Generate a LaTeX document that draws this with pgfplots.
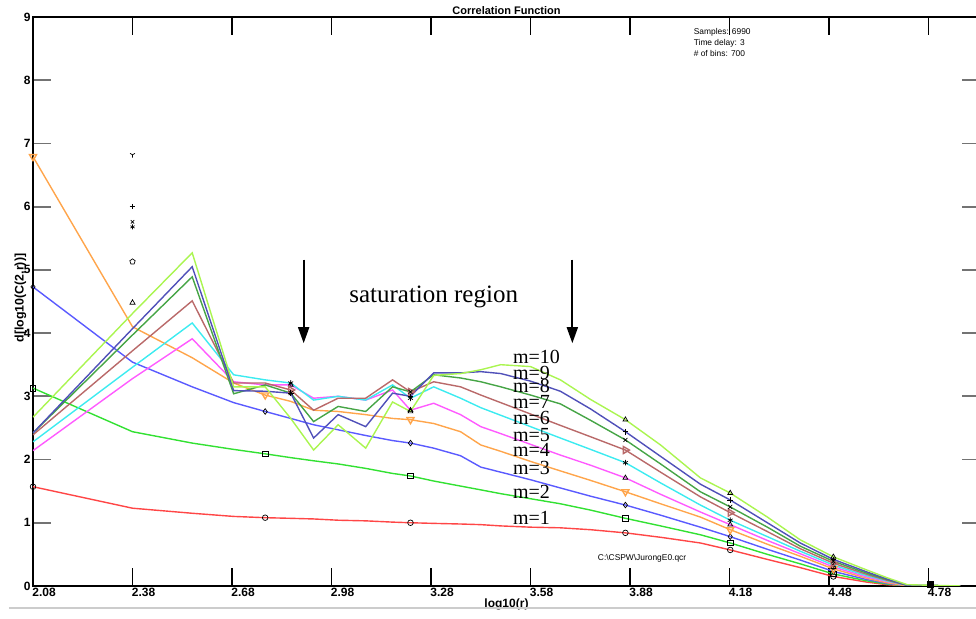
\documentclass[border=0pt]{standalone}
\usepackage{fontspec}
\setmainfont{Liberation Serif}
\newfontfamily\arial{Liberation Sans}
\usepackage{pgfplots}
\pgfplotsset{compat=1.18}
\usepackage{pgfplotstable}
\usetikzlibrary{arrows.meta}

\definecolor{c1}{RGB}{255,70,70}
\definecolor{c2}{RGB}{50,225,50}
\definecolor{c3}{RGB}{90,90,255}
\definecolor{c4}{RGB}{255,165,75}
\definecolor{c5}{RGB}{255,90,255}
\definecolor{c6}{RGB}{60,235,240}
\definecolor{c7}{RGB}{185,105,105}
\definecolor{c8}{RGB}{70,165,70}
\definecolor{c9}{RGB}{80,80,185}
\definecolor{c10}{RGB}{170,245,80}

\pgfplotstableread{
x m1 m2 m3 m4 m5 m6 m7 m8 m9 m10
2.080 1.57 3.13 4.73 6.79 2.14 2.28 2.39 2.42 2.42 2.67
2.380 1.23 2.44 3.54 4.10 3.28 3.46 3.72 3.97 4.07 4.31
2.560 1.15 2.26 3.15 3.61 3.91 4.16 4.51 4.89 5.05 5.27
2.685 1.10 2.16 2.90 3.21 3.23 3.34 3.21 3.04 3.09 3.15
2.780 1.08 2.09 2.76 3.02 3.18 3.26 3.21 3.18 3.08 3.15
2.857 1.07 2.03 2.65 2.92 3.18 3.21 3.10 3.05 3.05 2.65
2.926 1.06 1.98 2.55 2.78 2.97 2.94 2.78 2.60 2.34 2.15
3.000 1.04 1.93 2.47 2.76 3.00 3.00 2.97 2.84 2.71 2.55
3.083 1.03 1.86 2.38 2.71 2.94 2.94 2.97 2.76 2.52 2.18
3.164 1.01 1.78 2.30 2.65 3.10 3.18 3.26 3.15 3.05 2.91
3.218 1.00 1.74 2.26 2.63 2.78 2.97 3.07 3.07 3.00 2.76
3.288 0.99 1.66 2.18 2.57 2.89 3.15 3.23 3.34 3.37 3.33
3.369 0.98 1.58 2.06 2.44 2.71 2.97 3.15 3.29 3.37 3.36
3.430 0.97 1.52 1.88 2.23 2.52 2.82 3.02 3.23 3.39 3.42
3.490 0.95 1.46 1.80 2.13 2.41 2.70 2.90 3.15 3.36 3.50
3.580 0.93 1.38 1.68 1.97 2.24 2.52 2.72 3.02 3.24 3.47
3.670 0.92 1.30 1.55 1.82 2.07 2.34 2.54 2.88 3.08 3.26
3.761 0.89 1.20 1.42 1.67 1.91 2.16 2.36 2.62 2.80 2.95
3.866 0.84 1.07 1.28 1.49 1.71 1.95 2.15 2.31 2.44 2.63
3.972 0.77 0.95 1.12 1.30 1.45 1.63 1.80 1.93 2.05 2.23
4.092 0.68 0.81 0.93 1.09 1.17 1.28 1.41 1.49 1.61 1.71
4.182 0.57 0.68 0.78 0.89 0.97 1.04 1.16 1.25 1.36 1.47
4.294 0.42 0.50 0.58 0.66 0.72 0.78 0.86 0.93 1.00 1.09
4.393 0.29 0.35 0.41 0.47 0.51 0.55 0.59 0.63 0.68 0.73
4.493 0.15 0.19 0.23 0.27 0.30 0.33 0.36 0.39 0.42 0.46
4.595 0.06 0.08 0.10 0.12 0.14 0.16 0.18 0.20 0.22 0.25
4.655 0.02 0.03 0.04 0.05 0.07 0.08 0.09 0.10 0.11 0.13
4.716 0.00 0.00 0.00 0.00 0.01 0.01 0.01 0.01 0.01 0.02
4.875 0.00 0.00 0.00 0.00 0.00 0.00 0.00 0.00 0.00 0.00
}\data

\pgfplotsset{
  ser/.style={line width=0.7pt, mark options={black, solid, line width=0.35pt, mark size=1.4pt, fill=white}},
}
\tikzset{
  mlab/.style={anchor=west, inner sep=0pt, font=\fontsize{10}{12}\selectfont},
  info/.style={anchor=west, inner sep=0pt, font=\arial\fontsize{4.2}{5}\selectfont},
}

\begin{document}
\begin{tikzpicture}
\begin{axis}[name=ax, scale only axis, width=473.5pt, height=284.5pt,
  xmin=2.08, xmax=4.935, ymin=0, ymax=9,
  axis line style={line width=1pt},
  tick align=inside,
  xtick={2.08,2.38,2.68,2.98,3.28,3.58,3.88,4.18,4.48,4.78},
  ytick={0,1,2,3,4,5,6,7,8,9},
  x tick style={black, line width=0.6pt},
  y tick style={black!55, line width=0.9pt},
  xtick/.append style={major tick length=4pt},
  major tick length=9pt,
  /pgf/number format/assume math mode=true,
  xticklabel style={font=\arial\bfseries\fontsize{6}{7}\selectfont, anchor=north west, xshift=-1.5pt, inner sep=1pt,
    /pgf/number format/.cd, fixed, fixed zerofill, precision=2},
  yticklabel style={font=\arial\bfseries\fontsize{6}{7}\selectfont, inner sep=1pt},
  xlabel={log10(r)},
  xlabel style={font=\arial\bfseries\fontsize{6}{7}\selectfont, at={(axis description cs:0.5,0)}, anchor=center, yshift=-9pt},
  ylabel={d[log10(C(2,r))]},
  ylabel style={font=\arial\bfseries\fontsize{6.2}{7}\selectfont, at={(axis description cs:-0.0133,0.506)}, anchor=center},
  title={Correlation Function},
  title style={font=\arial\bfseries\fontsize{5.5}{6.5}\selectfont, at={(axis description cs:0.5,1)}, anchor=base, yshift=-5pt, inner sep=0pt},
]
\addplot[ser, c1, mark=o, mark indices={1,5,11,19,22,25}] table[x=x,y=m1] {\data};
\addplot[ser, c2, mark=square, mark indices={1,5,11,19,22,25}] table[x=x,y=m2] {\data};
\addplot[ser, c3, mark=diamond, mark indices={1,5,11,19,22,25}] table[x=x,y=m3] {\data};
\addplot[ser, c4, mark=triangle, mark options={rotate=180}, mark indices={1,5,11,19,22,25}] table[x=x,y=m4] {\data};
\addplot[ser, c5, mark=triangle, mark indices={6,11,19,22,25}] table[x=x,y=m5] {\data};
\addplot[ser, c6, mark=asterisk, mark indices={6,11,19,22,25}] table[x=x,y=m6] {\data};
\addplot[ser, c7, mark=triangle, mark options={rotate=-90}, mark indices={6,11,19,22,25}] table[x=x,y=m7] {\data};
\addplot[ser, c8, mark=x, mark indices={6,11,19,22,25}] table[x=x,y=m8] {\data};
\addplot[ser, c9, mark=+, mark indices={6,11,19,22,25}] table[x=x,y=m9] {\data};
\addplot[ser, c10, mark=triangle, mark indices={11,19,22,25}] table[x=x,y=m10] {\data};

% floating markers at 2.38
\addplot[only marks, mark=Mercedes star flipped, mark size=1.4pt, black, line width=0.35pt] coordinates {(2.38,6.82)};
\addplot[only marks, mark=+, mark size=1.4pt, black, line width=0.35pt] coordinates {(2.38,6.00)};
\addplot[only marks, mark=x, mark size=1.2pt, black, line width=0.35pt] coordinates {(2.38,5.76)};
\addplot[only marks, mark=asterisk, mark size=1.2pt, black, line width=0.35pt] coordinates {(2.38,5.68)};
\addplot[only marks, mark=pentagon, mark size=1.4pt, black, line width=0.35pt] coordinates {(2.38,5.13)};
\addplot[only marks, mark=triangle, mark size=1.5pt, black, line width=0.35pt] coordinates {(2.38,4.48)};
\addplot[only marks, mark=square*, mark size=1.5pt, black] coordinates {(4.785,0.03)};

% annotations
\node[font=\fontsize{12.5}{14}\selectfont] at (axis cs:3.288,4.57) {saturation region};
\draw[-{Triangle[width=5.5pt,length=8pt]}, line width=0.9pt] (axis cs:2.896,5.16) -- (axis cs:2.896,3.84);
\draw[-{Triangle[width=5.5pt,length=8pt]}, line width=0.9pt] (axis cs:3.706,5.16) -- (axis cs:3.706,3.84);
\node[mlab] at (axis cs:3.526,3.62) {m=10};
\node[mlab] at (axis cs:3.526,3.37) {m=9};
\node[mlab] at (axis cs:3.526,3.16) {m=8};
\node[mlab] at (axis cs:3.526,2.91) {m=7};
\node[mlab] at (axis cs:3.526,2.66) {m=6};
\node[mlab] at (axis cs:3.526,2.39) {m=5};
\node[mlab] at (axis cs:3.526,2.15) {m=4};
\node[mlab] at (axis cs:3.526,1.87) {m=3};
\node[mlab] at (axis cs:3.526,1.49) {m=2};
\node[mlab] at (axis cs:3.526,1.08) {m=1};
\node[info] at (axis cs:4.071,8.75) {Samples: 6990};
\node[info] at (axis cs:4.071,8.58) {Time delay: 3};
\node[info] at (axis cs:4.071,8.42) {\# of bins: 700};
\node[info] at (axis cs:3.782,0.443) {C:\textbackslash CSPW\textbackslash JurongE0.qcr};
\end{axis}
\draw[black!20, line width=1pt] ([xshift=-12pt,yshift=-11pt]ax.south west) -- ([yshift=-11pt]ax.south east);
\pgfresetboundingbox
\path[use as bounding box] ([xshift=-16.5pt,yshift=-16.5pt]ax.south west) rectangle ([xshift=-2pt,yshift=8.5pt]ax.north east);
\end{tikzpicture}
\end{document}
